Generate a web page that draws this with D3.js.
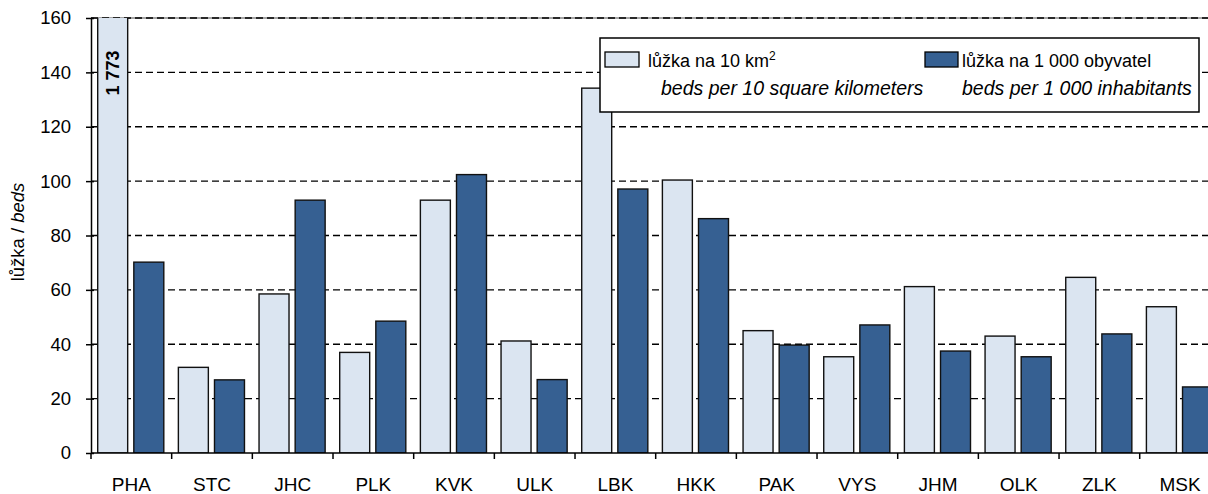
<!DOCTYPE html>
<html>
<head>
<meta charset="utf-8">
<script src="https://cdn.jsdelivr.net/npm/d3@7"></script>
<style>
  html, body { margin: 0; padding: 0; background: #fff; }
  svg { display: block; font-family: Arial, "Liberation Sans", sans-serif; }
</style>
</head>
<body>
<svg id="chart" width="1208" height="494"></svg>
<script>
// ---- data ----
const categories = ["PHA","STC","JHC","PLK","KVK","ULK","LBK","HKK","PAK","VYS","JHM","OLK","ZLK","MSK"];
const bedsPerArea = [1773, 31.5, 58.5, 37, 93, 41.2, 134.2, 100.4, 45, 35.4, 61.2, 43, 64.6, 53.8];
const bedsPerPop  = [70.2, 26.9, 93, 48.5, 102.4, 27, 97.1, 86.2, 39.7, 47.1, 37.5, 35.4, 43.8, 24.3];
const yTicks = [0, 20, 40, 60, 80, 100, 120, 140, 160];
const seriesKeys = ["area", "pop"];
const seriesColors = { area: "#dbe5f1", pop: "#366092" };
const overflowLabel = "1 773";

(function () {
// ---- layout ----
const svg = d3.select("#chart");
const W = 1208, H = 494;
const pLeft = 91, pTop = 18, pBottom = 453;
const step = 80.67;
const pRight = pLeft + step * categories.length;

const x0 = d3.scaleBand().domain(categories).range([pLeft, pRight]).padding(0);
const x1 = d3.scaleBand().domain(seriesKeys).range([6.7, 72.8]).paddingInner(0.17).paddingOuter(0);
const y = d3.scaleLinear().domain([0, 160]).range([pBottom, pTop]);

svg.append("rect").attr("width", W).attr("height", H).attr("fill", "#fff");

svg.append("defs").append("clipPath").attr("id", "plotclip")
  .append("rect").attr("x", pLeft).attr("y", pTop).attr("width", W - pLeft).attr("height", pBottom - pTop);

// gridlines
const grid = svg.append("g");
grid.append("line").attr("x1", pLeft).attr("x2", W).attr("y1", y(160)).attr("y2", y(160))
  .attr("stroke", "#888").attr("stroke-width", 1.3);
grid.selectAll("line.g").data(yTicks.filter(d => d > 0)).join("line")
  .attr("class", "g")
  .attr("x1", pLeft).attr("x2", W)
  .attr("y1", d => y(d)).attr("y2", d => y(d))
  .attr("stroke", "#000").attr("stroke-width", 1.3)
  .attr("stroke-dasharray", "7,4");

// bars
const rows = categories.map((c, i) => ({ cat: c, area: bedsPerArea[i], pop: bedsPerPop[i] }));
const bars = svg.append("g").attr("clip-path", "url(#plotclip)");
const groups = bars.selectAll("g").data(rows).join("g")
  .attr("transform", d => `translate(${x0(d.cat)},0)`);
groups.selectAll("rect").data(d => seriesKeys.map(k => ({ key: k, value: d[k] }))).join("rect")
  .attr("x", d => x1(d.key))
  .attr("width", x1.bandwidth())
  .attr("y", d => y(d.value))
  .attr("height", d => y(0) - y(d.value))
  .attr("fill", d => seriesColors[d.key])
  .attr("stroke", "#111")
  .attr("stroke-width", 1.4);

// overflow label for PHA
svg.append("text")
  .attr("transform", `translate(${x0("PHA") + x1("area") + x1.bandwidth() / 2 + 6},${73}) rotate(-90)`)
  .attr("text-anchor", "middle")
  .attr("font-size", 18).attr("font-weight", "bold")
  .text(overflowLabel);

// y axis
const yAxis = d3.axisLeft(y).tickValues(yTicks).tickSizeInner(5).tickSizeOuter(0).tickPadding(15);
const ya = svg.append("g").attr("transform", `translate(${pLeft},0)`).call(yAxis);
ya.select(".domain").attr("stroke", "#000").attr("stroke-width", 1.5);
ya.selectAll(".tick line").attr("stroke", "#000").attr("stroke-width", 1.5).attr("x2", 3).attr("x1", -5);
ya.selectAll(".tick text").attr("font-size", 18.5).attr("font-family", "Arial, 'Liberation Sans', sans-serif").attr("fill", "#000");

// x axis
const xa = svg.append("g").attr("transform", `translate(0,${pBottom})`);
xa.append("line").attr("x1", pLeft).attr("x2", W).attr("stroke", "#000").attr("stroke-width", 1.5);
xa.selectAll("line.t").data(categories).join("line").attr("class", "t")
  .attr("x1", d => x0(d)).attr("x2", d => x0(d)).attr("y1", 0).attr("y2", 6)
  .attr("stroke", "#000").attr("stroke-width", 1.5);
xa.selectAll("text").data(categories).join("text")
  .attr("x", d => x0(d) + x0.bandwidth() / 2)
  .attr("y", 38)
  .attr("text-anchor", "middle")
  .attr("font-size", 19)
  .text(d => d);

// y axis title
const yt = svg.append("text")
  .attr("transform", `translate(24,232) rotate(-90)`)
  .attr("text-anchor", "middle")
  .attr("font-size", 18.5);
yt.append("tspan").text("lůžka / ");
yt.append("tspan").attr("font-style", "italic").text("beds");

// legend
const lg = svg.append("g");
lg.append("rect").attr("x", 600).attr("y", 38).attr("width", 599).attr("height", 74)
  .attr("fill", "#fff").attr("stroke", "#000").attr("stroke-width", 1.5);
lg.append("rect").attr("x", 605).attr("y", 52).attr("width", 34).attr("height", 15)
  .attr("fill", seriesColors.area).attr("stroke", "#000").attr("stroke-width", 1.3);
const t1 = lg.append("text").attr("x", 648).attr("y", 67).attr("font-size", 18);
t1.append("tspan").text("lůžka na 10 km");
t1.append("tspan").attr("font-size", 12).attr("dy", -7).text("2");
lg.append("text").attr("x", 661).attr("y", 95).attr("font-size", 19.5).attr("font-style", "italic")
  .text("beds per 10 square kilometers");
lg.append("rect").attr("x", 925).attr("y", 52).attr("width", 33).attr("height", 15)
  .attr("fill", seriesColors.pop).attr("stroke", "#000").attr("stroke-width", 1.3);
lg.append("text").attr("x", 962).attr("y", 67).attr("font-size", 18).text("lůžka na 1 000 obyvatel");
lg.append("text").attr("x", 962).attr("y", 95).attr("font-size", 19.5).attr("font-style", "italic")
  .text("beds per 1 000 inhabitants");
})();
</script>
</body>
</html>
